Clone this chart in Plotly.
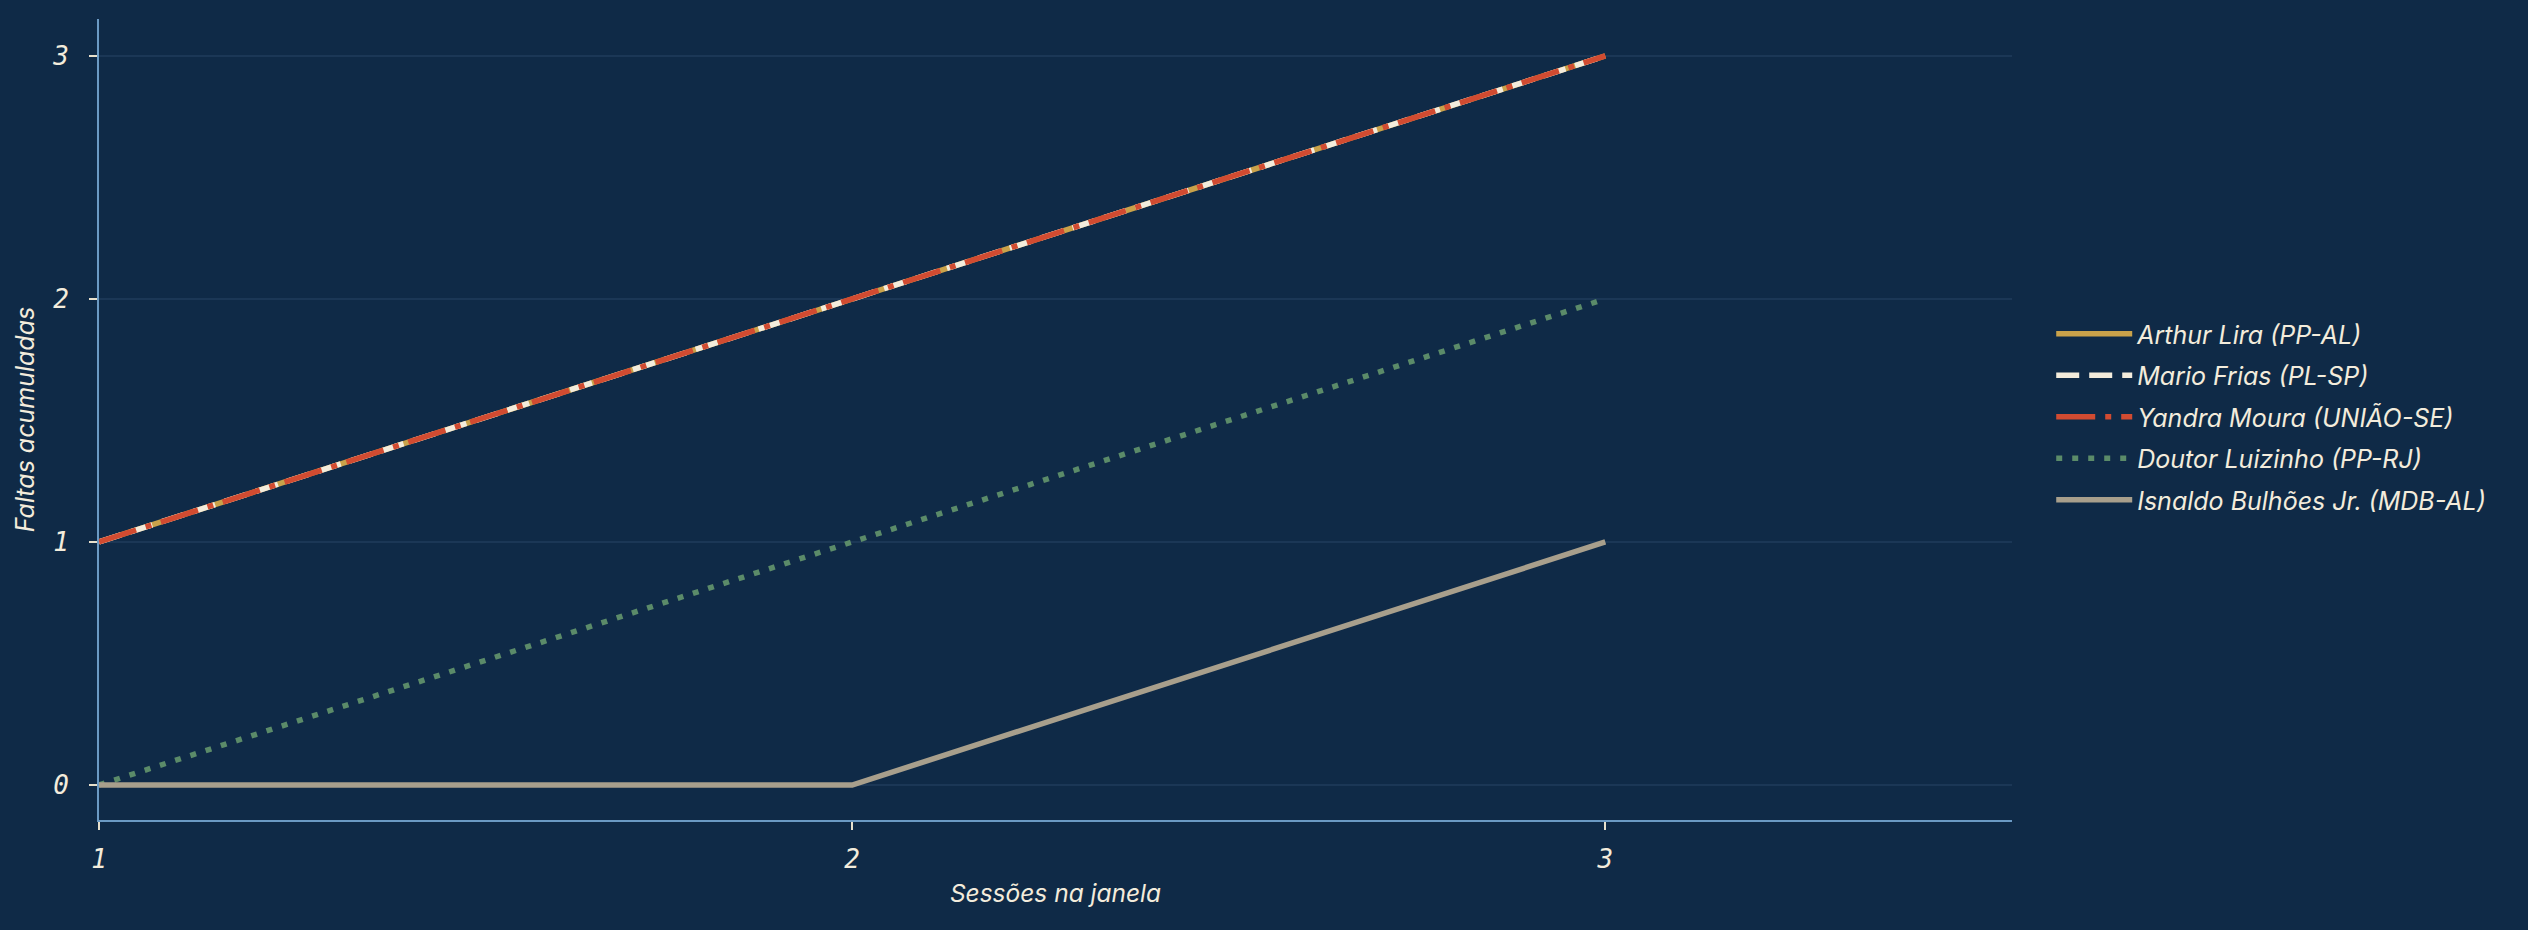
import plotly.graph_objects as go

sessions = [1, 2, 3]
names = ["Arthur Lira (PP-AL)", "Mario Frias (PL-SP)", "Yandra Moura (UNIÃO-SE)",
         "Doutor Luizinho (PP-RJ)", "Isnaldo Bulhões Jr. (MDB-AL)"]
arthur = [1, 2, 3]
mario = [1, 2, 3]
yandra = [1, 2, 3]
doutor = [0, 1, 2]
isnaldo = [0, 0, 1]
series = [arthur, mario, yandra, doutor, isnaldo]
colors = ["#c9a24a", "#f3ecdc", "#d14b31", "#5b8b69", "#a89f8c"]
dashes = ["solid", "23px,10px", "39px,10px,6px,10px", "6px,10px", "solid"]

BG = "#0f2a47"
TXT = "#f3ecdc"

fig = go.Figure()
for i, (nm, ys) in enumerate(zip(names, series)):
    fig.add_trace(go.Scatter(
        x=sessions, y=ys, mode="lines", name=nm,
        legendgroup=f"g{i}",
        line=dict(color=colors[i], width=5.5, dash=dashes[i]),
    ))

fig.update_layout(
    width=2528, height=930,
    paper_bgcolor=BG, plot_bgcolor=BG,
    margin=dict(l=99, r=516, t=19, b=110),
    font=dict(family="Inter", color=TXT, size=25),
    showlegend=True,
    legend=dict(
        x=1.0205, xanchor="left", y=0.503, yanchor="middle",
        bgcolor="rgba(0,0,0,0)", borderwidth=0,
        font=dict(family="Inter", size=25, color=TXT, style="italic"),
        itemwidth=76, tracegroupgap=6, traceorder="grouped",
    ),
    xaxis=dict(
        range=[1, 3.54], tickvals=[1, 2, 3], ticktext=["1", "2", "3"],
        showgrid=False, zeroline=False,
        showline=True, linecolor="#6b9ac4", linewidth=2,
        ticks="outside", ticklen=8, tickwidth=2, tickcolor="#e8e0cc",
        tickfont=dict(family="DejaVu Sans Mono", size=26, color=TXT, style="italic"),
        ticklabelstandoff=7,
        title=dict(text="Sessões na janela", standoff=12,
                   font=dict(family="Inter", size=24.5, color=TXT, style="italic")),
    ),
    yaxis=dict(
        range=[-0.144, 3.152], tickvals=[0, 1, 2, 3], ticktext=["0", "1", "2", "3"],
        showgrid=True, gridcolor="#1b3756", gridwidth=2, zeroline=False,
        showline=True, linecolor="#6b9ac4", linewidth=2,
        ticks="outside", ticklen=8, tickwidth=2, tickcolor="#e8e0cc",
        tickfont=dict(family="DejaVu Sans Mono", size=26, color=TXT, style="italic"),
        ticklabelstandoff=15,
        title=dict(text="Faltas acumuladas", standoff=10,
                   font=dict(family="Inter", size=25, color=TXT, style="italic")),
    ),
)

fig.write_html("out.html")
